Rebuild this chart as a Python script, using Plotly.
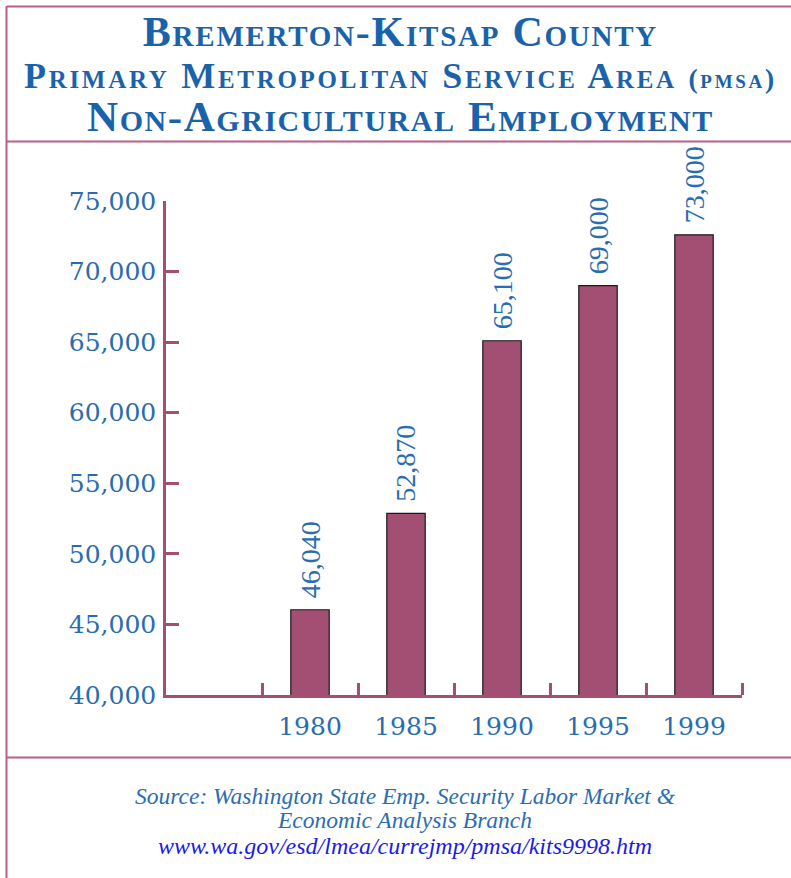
import plotly.graph_objects as go

years = ["1980", "1985", "1990", "1995", "1999"]
employment = [46040, 52870, 65100, 69000, 72600]
value_labels = ["46,040", "52,870", "65,100", "69,000", "73,000"]
y_ticks = [40000, 45000, 50000, 55000, 60000, 65000, 70000, 75000]
y_tick_text = ["40,000", "45,000", "50,000", "55,000", "60,000", "65,000", "70,000", "75,000"]
title_text = ("<span style='font-size:42px;letter-spacing:1.75px'>Bremerton-Kitsap County</span><br>"
              "<span style='font-size:36px;letter-spacing:2.7px'>Primary Metropolitan Service Area "
              "<span style='font-size:27.5px'>(pmsa)</span></span><br>"
              "<span style='font-size:43px;letter-spacing:1.55px'>Non-Agricultural Employment</span>")
source_text = ("<span style='font-size:23.5px'>Source: Washington State Emp. Security Labor Market &amp;</span><br>"
               "<span style='font-size:23.5px'>Economic Analysis Branch</span>")
source_url = "www.wa.gov/esd/lmea/currejmp/pmsa/kits9998.htm"

W, H = 791, 878
L, R, T, B = 166, 742, 201, 695
BLUE = "#1a63aa"
LBLUE = "#2a6cb0"
AXC = "#a34f74"
FRAME = "#b75f8a"
BAR = "#a34f74"
SERIF = "Liberation Serif, Times New Roman, serif"
WSERIF = "DejaVu Serif, serif"

def px(x):
    return (x - L) / (R - L)

def py(y):
    return (B - y) / (B - T)

xpos = list(range(1, len(years) + 1))

fig = go.Figure()
fig.add_trace(go.Bar(
    x=xpos, y=employment, width=0.4,
    marker=dict(color=BAR, line=dict(color="#1a1a1a", width=1.2)),
    hoverinfo="skip", showlegend=False,
))

annotations = []
for xv, yv, lab in zip(xpos, employment, value_labels):
    annotations.append(dict(x=xv, y=yv, xref="x", yref="y", text=lab, showarrow=False,
                            textangle=-90, yanchor="bottom", xanchor="center", yshift=9,
                            font=dict(family=SERIF, size=28, color=LBLUE)))

annotations.append(dict(x=px(400), y=py(74.5), xref="paper", yref="paper",
                        text=title_text, showarrow=False, xanchor="center", yanchor="middle",
                        align="center",
                        font=dict(family=SERIF, size=32.5, color=BLUE, weight="bold",
                                  variant="small-caps")))

annotations.append(dict(x=px(405), y=py(808), xref="paper", yref="paper",
                        text=source_text, showarrow=False, xanchor="center", yanchor="middle",
                        align="center",
                        font=dict(family=SERIF, size=18.5, color="#2a6db0", style="italic")))
annotations.append(dict(x=px(405), y=py(846), xref="paper", yref="paper",
                        text=source_url, showarrow=False, xanchor="center", yanchor="middle",
                        font=dict(family=SERIF, size=24, color="#1a1aee", style="italic")))

shapes = [
    dict(type="line", xref="paper", yref="paper", x0=px(7), x1=px(800), y0=py(6.5), y1=py(6.5),
         line=dict(color=FRAME, width=2)),
    dict(type="line", xref="paper", yref="paper", x0=px(7), x1=px(800), y0=py(141.5), y1=py(141.5),
         line=dict(color=FRAME, width=2)),
    dict(type="line", xref="paper", yref="paper", x0=px(7), x1=px(800), y0=py(757.5), y1=py(757.5),
         line=dict(color=FRAME, width=2)),
    dict(type="line", xref="paper", yref="paper", x0=px(6.5), x1=px(6.5), y0=py(6), y1=py(900),
         line=dict(color=FRAME, width=2)),
]

fig.update_layout(
    width=W, height=H,
    margin=dict(l=L, r=W - R, t=T, b=H - B, pad=0),
    paper_bgcolor="white", plot_bgcolor="white",
    annotations=annotations, shapes=shapes,
    xaxis=dict(range=[-0.5, len(years) + 0.5], tickvals=xpos, ticktext=years,
               ticks="", showgrid=False, zeroline=False, showline=True,
               linecolor=AXC, linewidth=2.5,
               tickfont=dict(family=WSERIF, size=25, color=LBLUE),
               ticklabelstandoff=7,
               minor=dict(tickvals=[x + 0.5 for x in [0] + xpos], ticks="inside",
                          ticklen=12, tickwidth=2.5, tickcolor=AXC, showgrid=False),
               fixedrange=True),
    yaxis=dict(range=[y_ticks[0], y_ticks[-1]], tickvals=y_ticks, ticktext=y_tick_text,
               ticks="inside", ticklen=13, tickwidth=2.5, tickcolor=AXC,
               showgrid=False, zeroline=False, showline=True, linecolor=AXC, linewidth=2.5,
               tickfont=dict(family=WSERIF, size=25, color=LBLUE),
               ticklabelstandoff=2, fixedrange=True),
)

fig.write_html("out.html", config={"displayModeBar": False},
               post_script="document.body.style.margin='0px';document.body.style.overflow='hidden';")
